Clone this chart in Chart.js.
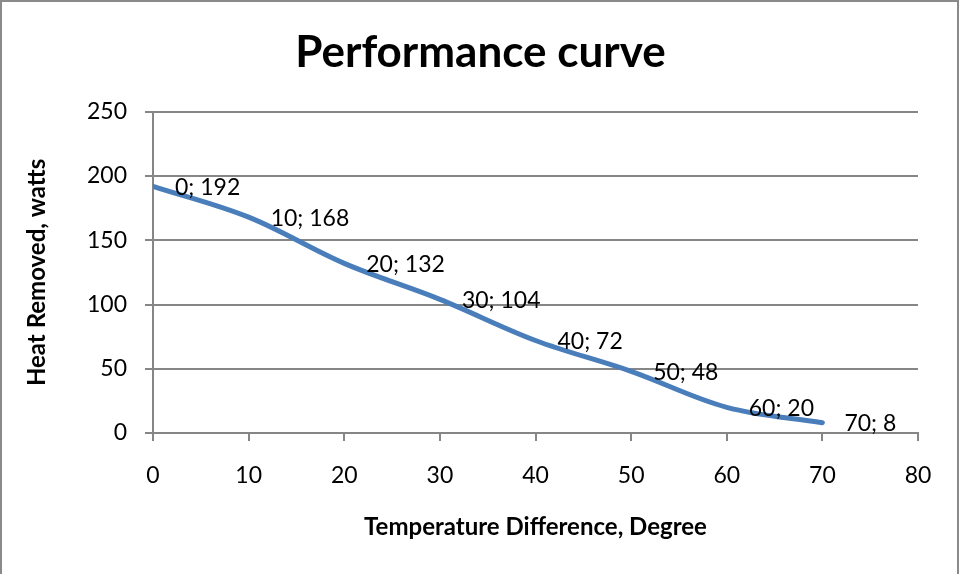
<!DOCTYPE html>
<html>
<head>
<meta charset="utf-8">
<script src="https://cdn.jsdelivr.net/npm/chart.js@4.4.0/dist/chart.umd.min.js"></script>
<style>
  html, body { margin: 0; padding: 0; background: #fff; }
  canvas { display: block; }
</style>
</head>
<body>
<canvas id="perf" width="961" height="574"></canvas>
<script>
// data
const tempDiff = [0, 10, 20, 30, 40, 50, 60, 70];
const heatRemoved = [192, 168, 132, 104, 72, 48, 20, 8];
const xTicks = [0, 10, 20, 30, 40, 50, 60, 70, 80];
const yTicks = [0, 50, 100, 150, 200, 250];

const FONT = "Lato, 'Open Sans', sans-serif";
const gridColor = "#868686";

// excel style "x; y" labels to the right of each point
const pointLabels = {
  id: "pointLabels",
  afterDatasetsDraw(chart) {
    const ctx = chart.ctx;
    const meta = chart.getDatasetMeta(0);
    ctx.save();
    ctx.font = "23px " + FONT;
    ctx.fillStyle = "#000";
    ctx.textAlign = "left";
    ctx.textBaseline = "middle";
    meta.data.forEach((pt, i) => {
      ctx.fillText(tempDiff[i] + "; " + heatRemoved[i], pt.x + 22, pt.y + 1);
    });
    ctx.restore();
  }
};

const frame = {
  id: "frame",
  afterDraw(chart) {
    const ctx = chart.ctx;
    ctx.save();
    ctx.strokeStyle = "#8a8a8a";
    ctx.lineWidth = 2;
    ctx.strokeRect(1, 1, 957, 620);
    ctx.restore();
  }
};

new Chart(document.getElementById("perf"), {
  type: "scatter",
  data: {
    datasets: [{
      data: tempDiff.map((x, i) => ({ x: x, y: heatRemoved[i] })),
      showLine: true,
      borderColor: "#4a7ebb",
      borderWidth: 5,
      borderCapStyle: "round",
      pointRadius: 0,
      tension: 0.35
    }]
  },
  options: {
    responsive: false,
    animation: false,
    layout: { padding: { left: 10, right: 10, top: 0, bottom: 20 } },
    plugins: {
      legend: { display: false },
      tooltip: { enabled: false },
      title: {
        display: true,
        text: "Performance curve",
        color: "#000",
        font: { family: FONT, size: 44, weight: "bold" },
        padding: { top: 26, bottom: 33 }
      }
    },
    scales: {
      x: {
        type: "linear",
        min: 0,
        max: 80,
        afterBuildTicks: (axis) => { axis.ticks = xTicks.map(v => ({ value: v })); },
        afterFit: (axis) => { axis.height = 121; },
        grid: { drawOnChartArea: false, drawTicks: true, tickLength: 8, color: gridColor, lineWidth: 2 },
        border: { display: true, color: gridColor, width: 2 },
        ticks: { color: "#000", font: { family: FONT, size: 23 }, padding: 21, maxRotation: 0 },
        title: {
          display: true,
          text: "Temperature Difference, Degree",
          color: "#000",
          font: { family: FONT, size: 24, weight: "bold" },
          padding: { top: 0, bottom: 12 }
        }
      },
      y: {
        min: 0,
        max: 250,
        afterBuildTicks: (axis) => { axis.ticks = yTicks.map(v => ({ value: v })); },
        afterFit: (axis) => { axis.width = 143; },
        grid: { drawOnChartArea: true, drawTicks: true, tickLength: 8, color: gridColor, lineWidth: 2 },
        border: { display: true, color: gridColor, width: 2 },
        ticks: { color: "#000", font: { family: FONT, size: 23 }, padding: 18 },
        title: {
          display: true,
          text: "Heat Removed, watts",
          color: "#000",
          font: { family: FONT, size: 24, weight: "bold" },
          padding: { top: 13, bottom: 0 }
        }
      },
      // empty right margin so the plot ends where the original does
      yRight: {
        position: "right",
        min: 0,
        max: 250,
        afterFit: (axis) => { axis.width = 33; },
        grid: { display: false },
        border: { display: false },
        ticks: { display: false }
      }
    }
  },
  plugins: [pointLabels, frame]
});
</script>
</body>
</html>
